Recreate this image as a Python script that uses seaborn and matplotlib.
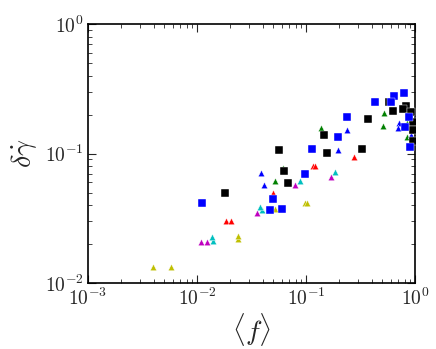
import pandas as pd
import matplotlib
matplotlib.use("Agg")
import matplotlib.pyplot as plt
import seaborn as sns

# data (log-log), one list pair per series
black_sq_f = [0.0181, 0.0569, 0.0622, 0.0688, 0.146, 0.155, 0.329, 0.368, 0.571,
              0.818, 0.632, 0.771, 0.925, 0.949, 0.952, 0.959]
black_sq_y = [0.0495, 0.107, 0.0729, 0.0589, 0.139, 0.101, 0.108, 0.184, 0.248,
              0.233, 0.215, 0.219, 0.209, 0.176, 0.153, 0.125]

blue_sq_f = [0.01104, 0.0495, 0.0465, 0.060, 0.0975, 0.114, 0.195, 0.239, 0.427,
             0.642, 0.788, 0.606, 0.875, 0.806, 0.894]
blue_sq_y = [0.0417, 0.0445, 0.0364, 0.0375, 0.0698, 0.109, 0.134, 0.192, 0.251,
             0.279, 0.291, 0.248, 0.190, 0.159, 0.112]

blue_tri_f = [0.0383, 0.0414, 0.195, 0.238, 0.718, 0.703, 0.913]
blue_tri_y = [0.0713, 0.0571, 0.106, 0.153, 0.171, 0.158, 0.139]

green_tri_f = [0.0610, 0.052, 0.138, 0.514, 0.508, 0.845, 0.850]
green_tri_y = [0.0770, 0.0613, 0.157, 0.207, 0.162, 0.135, 0.173]

red_tri_f = [0.01845, 0.0205, 0.0495, 0.116, 0.121, 0.276]
red_tri_y = [0.0299, 0.0299, 0.0498, 0.0805, 0.0805, 0.094]

magenta_tri_f = [0.0108, 0.0123, 0.0353, 0.0793, 0.169]
magenta_tri_y = [0.0208, 0.0208, 0.0348, 0.0568, 0.0655]

cyan_tri_f = [0.0141, 0.0138, 0.0397, 0.0378, 0.0881, 0.183]
cyan_tri_y = [0.0211, 0.0227, 0.0364, 0.0384, 0.0617, 0.0716]

yellow_tri_f = [0.00397, 0.00574, 0.0239, 0.0239, 0.0523, 0.098, 0.101]
yellow_tri_y = [0.0133, 0.0133, 0.0217, 0.0231, 0.0371, 0.0418, 0.0418]

series = [
    ("y", "^", yellow_tri_f, yellow_tri_y),
    ("m", "^", magenta_tri_f, magenta_tri_y),
    ("c", "^", cyan_tri_f, cyan_tri_y),
    ("r", "^", red_tri_f, red_tri_y),
    ("g", "^", green_tri_f, green_tri_y),
    ("b", "^", blue_tri_f, blue_tri_y),
    ("k", "s", black_sq_f, black_sq_y),
    ("b", "s", blue_sq_f, blue_sq_y),
]

colors = {"y": "#bfbf00", "m": "#bf00bf", "c": "#00bfbf", "r": "#ff0000",
          "g": "#008000", "b": "#0000ff", "k": "#000000"}

sns.set_style("ticks")
plt.rcParams["mathtext.fontset"] = "cm"
plt.rcParams["font.family"] = ["cmr10", "DejaVu Serif"]
plt.rcParams["axes.formatter.use_mathtext"] = True

fig = plt.figure(figsize=(4.36, 3.49), dpi=100)
ax = fig.add_axes([0.202, 0.189, 0.750, 0.742])

for col, mk, fx, fy in series:
    df = pd.DataFrame({"f": fx, "dg": fy})
    sns.scatterplot(data=df, x="f", y="dg", color=colors[col], marker=mk,
                    s=32 if mk == "s" else 22, edgecolor="white", linewidth=0.3,
                    ax=ax, legend=False, zorder=3)

ax.set_xscale("log")
ax.set_yscale("log")
ax.set_xlim(1e-3, 1)
ax.set_ylim(1e-2, 1)
ax.set_xlabel(r"$\langle f\rangle$", fontsize=20, labelpad=2)
ax.set_ylabel(r"$\delta\dot{\gamma}$", fontsize=20, labelpad=4)
ax.tick_params(which="both", direction="in", top=True, right=True, labelsize=14, pad=3)
ax.tick_params(which="major", length=6, width=0.8)
ax.tick_params(which="minor", length=3, width=0.6)
for sp in ax.spines.values():
    sp.set_linewidth(1.2)
    sp.set_color("black")

fig.savefig("out.png", dpi=100)
